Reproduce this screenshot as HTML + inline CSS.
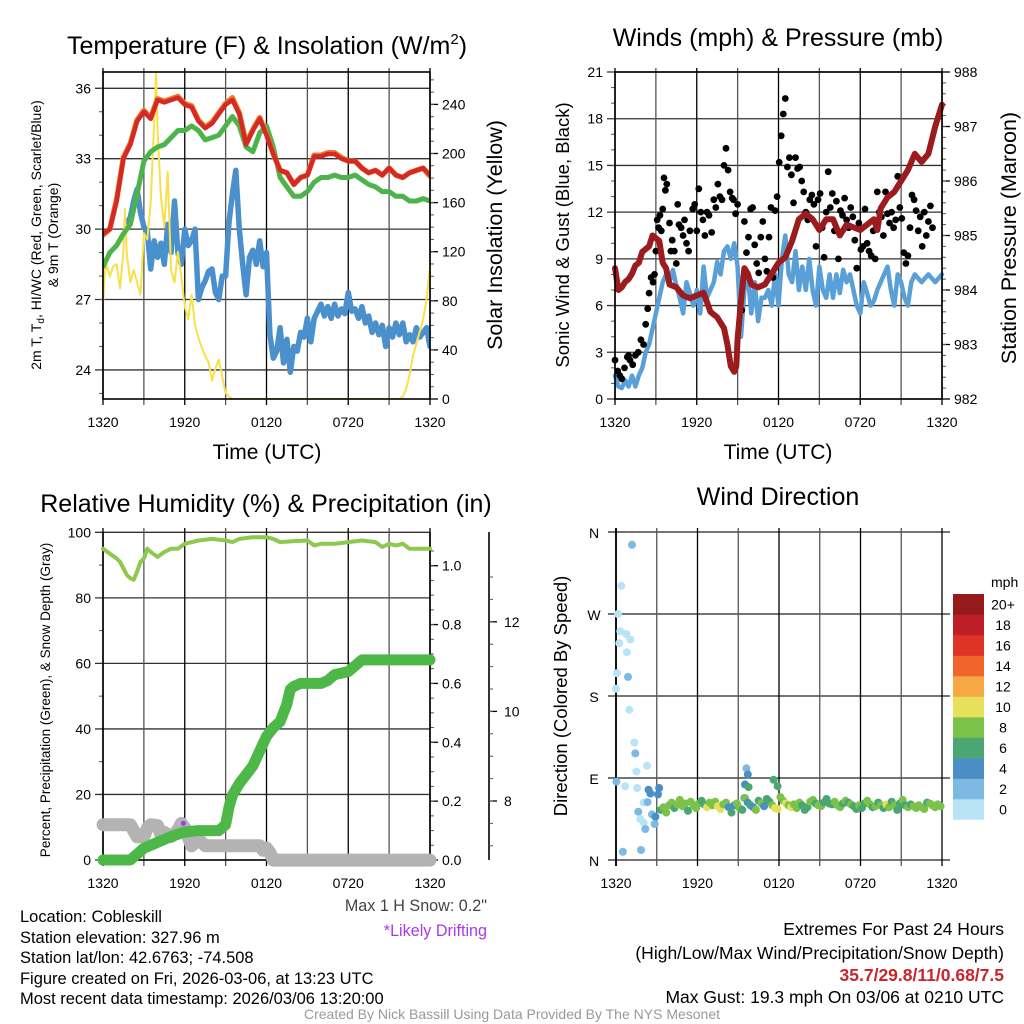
<!DOCTYPE html>
<html><head><meta charset="utf-8"><title>NYS Mesonet Cobleskill</title>
<style>
html,body{margin:0;padding:0;background:#fff;}
svg{display:block;font-family:"Liberation Sans",sans-serif;}
</style></head>
<body>
<svg id="fig" width="1024" height="1024" viewBox="0 0 1024 1024" xmlns="http://www.w3.org/2000/svg">
<rect x="0" y="0" width="1024" height="1024" fill="#fff"/>
<g id="p1"></g>
<g id="p2"></g>
<g id="p3"></g>
<g id="p4"></g>
<!-- titles -->
<text x="267" y="54" font-size="25" text-anchor="middle">Temperature (F) &amp; Insolation (W/m<tspan font-size="15" dy="-10">2</tspan><tspan dy="10">)</tspan></text>
<text x="778" y="46" font-size="25" text-anchor="middle">Winds (mph) &amp; Pressure (mb)</text>
<text x="266" y="512" font-size="25" text-anchor="middle">Relative Humidity (%) &amp; Precipitation (in)</text>
<text x="778" y="505" font-size="25" text-anchor="middle">Wind Direction</text>
<text x="267" y="459" font-size="21" text-anchor="middle">Time (UTC)</text>
<text x="778" y="459" font-size="21" text-anchor="middle">Time (UTC)</text>
<text transform="translate(41,235) rotate(-90)" font-size="14" text-anchor="middle">2m T, T<tspan font-size="10" dy="3">d</tspan><tspan dy="-3">, HI/WC (Red, Green, Scarlet/Blue)</tspan></text>
<text transform="translate(58,235) rotate(-90)" font-size="14" text-anchor="middle">&amp; 9m T (Orange)</text>
<text transform="translate(502,235) rotate(-90)" font-size="21.5" text-anchor="middle">Solar Insolation (Yellow)</text>
<text transform="translate(569,235) rotate(-90)" font-size="18.5" text-anchor="middle">Sonic Wind &amp; Gust (Blue, Black)</text>
<text transform="translate(1016,238) rotate(-90)" font-size="21.5" text-anchor="middle">Station Pressure (Maroon)</text>
<text transform="translate(50,700) rotate(-90)" font-size="13.5" text-anchor="middle">Percent, Precipitation (Green), &amp; Snow Depth (Gray)</text>
<text transform="translate(567,696) rotate(-90)" font-size="18.5" text-anchor="middle">Direction (Colored By Speed)</text>
<!-- footer -->
<g font-size="17">
<text x="20" y="922" transform="translate(20,0) scale(0.97,1) translate(-20,0)">Location: Cobleskill</text>
<text x="20" y="943" transform="translate(20,0) scale(0.97,1) translate(-20,0)">Station elevation: 327.96 m</text>
<text x="20" y="963" transform="translate(20,0) scale(0.97,1) translate(-20,0)">Station lat/lon: 42.6763; -74.508</text>
<text x="20" y="984" transform="translate(20,0) scale(0.97,1) translate(-20,0)">Figure created on Fri, 2026-03-06, at 13:23 UTC</text>
<text x="20" y="1004" transform="translate(20,0) scale(0.97,1) translate(-20,0)">Most recent data timestamp: 2026/03/06 13:20:00</text>
</g>
<text x="487" y="911" font-size="17" text-anchor="end" fill="#444" transform="translate(487,0) scale(0.95,1) translate(-487,0)">Max 1 H Snow: 0.2"</text>
<text x="487" y="936" font-size="17" text-anchor="end" fill="#a83be0" transform="translate(487,0) scale(0.95,1) translate(-487,0)">*Likely Drifting</text>
<g font-size="17.5" text-anchor="end">
<text x="1004" y="935">Extremes For Past 24 Hours</text>
<text x="1004" y="959">(High/Low/Max Wind/Precipitation/Snow Depth)</text>
<text x="1004" y="981" fill="#c8262a" font-weight="bold">35.7/29.8/11/0.68/7.5</text>
<text x="1004" y="1003">Max Gust: 19.3 mph On 03/06 at 0210 UTC</text>
</g>
<text x="512" y="1019" font-size="14" fill="#999" text-anchor="middle">Created By Nick Bassill Using Data Provided By The NYS Mesonet</text>
</svg>
<script>
// ---------- shared ----------
const timeTicks = ["1320","1920","0120","0720","1320"];
// ---------- panel 1 data ----------
const tempHours = [0,0.5,1,1.5,2,2.5,3,3.5,4,4.5,5,5.5,6,6.5,7,7.5,8,8.5,9,9.5,10,10.5,11,11.5,12,12.5,13,13.5,14,14.5,15,15.5,16,16.5,17,17.5,18,18.5,19,19.5,20,20.5,21,21.5,22,22.5,23,23.5,24];
const tempRed = [29.8,30.0,31.2,33.0,33.6,34.6,35.0,34.7,35.5,35.4,35.5,35.6,35.3,35.2,34.6,34.3,34.5,34.9,35.3,35.5,34.9,33.6,34.2,34.7,34.0,33.2,32.5,32.4,31.9,32.2,32.3,33.1,33.1,33.2,33.2,33.0,32.9,32.9,32.6,32.4,32.5,32.3,32.6,32.3,32.2,32.4,32.5,32.6,32.3];
const tempOrange = [29.75,30.0,31.25,33.05,33.65,34.65,35.05,34.75,35.55,35.45,35.55,35.65,35.35,35.25,34.65,34.35,34.55,34.95,35.35,35.6,34.95,33.65,34.25,34.75,34.05,33.2,32.5,32.4,31.9,32.2,32.3,33.15,33.15,33.25,33.25,33.05,32.9,32.9,32.6,32.4,32.5,32.3,32.6,32.3,32.2,32.4,32.5,32.6,32.25];
const tempGreen = [28.4,29.0,29.3,29.8,30.2,31.5,32.9,33.3,33.5,33.6,33.9,34.2,34.2,34.4,34.2,33.8,33.9,34.0,34.4,34.8,34.4,33.5,33.3,34.1,34.4,33.5,32.2,31.8,31.4,31.4,31.6,32.0,32.2,32.2,32.3,32.2,32.2,32.3,32.1,31.9,31.8,31.6,31.6,31.4,31.4,31.2,31.2,31.3,31.2];
const wcHours = [1.8,2,2.25,2.5,2.75,3,3.25,3.5,3.75,4,4.25,4.5,4.75,5,5.25,5.5,5.75,6,6.25,6.5,6.75,7,7.25,7.5,7.75,8,8.25,8.5,8.75,9,9.25,9.5,9.75,10,10.25,10.5,10.75,11,11.25,11.5,11.75,12,12.25,12.5,12.75,13,13.25,13.5,13.75,14,14.25,14.5,14.75,15,15.25,15.5,15.75,16,16.25,16.5,16.75,17,17.25,17.5,17.75,18,18.25,18.5,18.75,19,19.25,19.5,19.75,20,20.25,20.5,20.75,21,21.25,21.5,21.75,22,22.25,22.5,22.75,23,23.25,23.5,23.75,24];
const wcBlue = [30.3,30.5,31.2,31.7,30.7,30.1,29.9,28.3,29.5,28.8,29.4,28.5,30.2,29.0,31.2,29.0,28.5,30.0,29.3,29.5,30.0,27.0,27.5,27.8,28.2,28.3,27.3,27.0,28.0,28.0,30.3,31.5,32.5,30.0,28.5,27.2,28.8,29.1,28.5,29.5,28.4,29.0,25.5,24.5,24.8,25.8,24.3,25.3,23.9,25.0,24.8,25.6,25.4,26.2,25.2,26.2,26.5,26.8,26.3,26.7,26.2,26.8,26.3,26.6,26.4,27.3,26.5,26.6,26.2,26.7,26.0,26.3,25.6,26.0,25.5,25.9,25.0,25.8,25.4,26.0,25.5,26.0,25.2,25.5,25.2,25.8,25.4,25.6,25.8,25.0];
const solarHours = [0,0.1,0.25,0.5,0.75,1,1.25,1.5,1.6,1.75,2,2.25,2.5,2.75,3,3.25,3.5,3.75,3.9,4,4.25,4.5,4.75,5,5.25,5.5,5.75,6,6.25,6.5,6.75,7,7.25,7.5,7.75,8,8.25,8.5,8.75,9,9.25,9.5,21.75,22,22.25,22.5,22.75,23,23.25,23.5,23.75,24];
const solarVals = [74,100,110,100,108,110,90,120,155,118,95,105,95,85,135,130,160,225,265,220,165,140,185,105,95,120,100,75,65,85,60,50,42,35,30,15,25,32,18,5,2,0,0,2,8,20,35,45,55,65,82,108];
const tempTicks = [24,27,30,33,36];
const solarTicks = [0,40,80,120,160,200,240];
// ---------- panel 2 data ----------
const presHours = [0,0.25,0.5,0.75,1,1.25,1.5,1.75,2,2.5,2.75,3,3.25,3.5,3.75,4,4.5,5,5.5,6,6.5,7,7.5,8,8.25,8.5,8.75,8.9,9,9.25,9.5,9.75,10,10.5,11,11.5,12,12.5,13,13.5,14,14.5,15,15.5,16,16.5,17,17.5,18,18.5,19,19.25,19.5,20,20.5,21,21.5,22,22.5,23,23.5,24];
const presVals = [984.4,984.0,984.05,984.15,984.2,984.3,984.45,984.5,984.7,984.8,985.0,984.95,984.9,984.5,984.4,984.1,984.05,983.9,983.85,983.9,983.95,983.6,983.5,983.3,983.0,982.6,982.5,982.6,983.1,983.8,984.4,984.3,984.1,984.05,984.1,984.3,984.5,984.6,984.9,985.3,985.4,985.3,985.1,985.3,985.3,985.0,985.2,985.15,985.1,985.2,985.3,985.1,985.5,985.7,985.8,986.0,986.2,986.5,986.35,986.5,987.0,987.4];
const windHours = [0,0.25,0.5,0.75,1,1.25,1.5,1.75,2,2.25,2.5,2.75,3,3.25,3.5,3.75,4,4.25,4.5,4.75,5,5.25,5.5,5.75,6,6.25,6.5,6.75,7,7.25,7.5,7.75,8,8.25,8.5,8.75,9,9.25,9.5,9.75,10,10.25,10.5,10.75,11,11.25,11.5,11.75,12,12.25,12.5,12.75,13,13.25,13.5,13.75,14,14.25,14.5,14.75,15,15.25,15.5,15.75,16,16.25,16.5,16.75,17,17.25,17.5,17.75,18,18.25,18.5,18.75,19,19.25,19.5,19.75,20,20.25,20.5,20.75,21,21.25,21.5,21.75,22,22.5,23,23.5,24];
const windVals = [1.5,0.8,0.7,1.2,0.8,1.5,0.8,1.5,2.0,3.0,3.5,4.5,5.5,6.5,7.5,8.0,7.5,8.3,7.3,6.5,5.5,7.5,6.8,6.0,7.0,5.5,8.5,6.5,7.0,7.5,8.8,8.0,9.5,9.8,9.0,10.0,8.5,4.0,7.0,8.0,5.5,7.5,5.0,6.5,6.5,7.0,6.0,8.0,6.0,9.0,10.5,8.0,7.5,9.5,7.0,8.5,7.0,9.0,7.0,6.0,8.5,7.0,6.5,8.0,6.5,8.0,6.8,8.3,7.5,8.0,7.0,6.0,5.5,7.5,6.8,6.0,6.3,7.0,7.5,8.0,8.5,7.0,6.0,8.0,7.5,6.5,6.0,7.5,8.0,7.5,8.0,7.5,8.0];
const gustHours = [0,0.2,0.35,0.5,0.7,0.9,1.0,1.1,1.3,1.5,1.7,1.9,2.1,2.25,2.4,2.5,2.65,2.8,2.9,3.0,3.1,3.2,3.3,3.4,3.5,3.6,3.7,3.8,4.0,4.1,4.2,4.35,4.5,4.6,4.7,4.85,5.0,5.1,5.25,5.4,5.5,5.7,5.85,6.0,6.15,6.3,6.45,6.6,6.75,6.9,7.1,7.25,7.4,7.55,7.7,7.85,8.0,8.15,8.3,8.45,8.6,8.7,8.85,9.0,9.3,9.5,9.65,9.8,9.95,10.1,10.25,10.4,10.55,10.7,10.85,11.0,11.15,11.3,11.45,11.6,11.75,11.9,12.05,12.2,12.35,12.5,12.65,12.8,12.95,13.1,13.25,13.4,13.55,13.7,13.85,14.0,14.15,14.3,14.45,14.6,14.75,14.9,15.05,15.2,15.35,15.5,15.65,15.8,15.95,16.1,16.25,16.4,16.55,16.7,16.85,17.0,17.15,17.3,17.45,17.6,17.75,17.9,18.05,18.2,18.35,18.5,18.65,18.8,18.95,19.1,19.25,19.4,19.55,19.7,19.85,20.0,20.15,20.3,20.45,20.6,20.75,20.9,21.05,21.2,21.35,21.5,21.65,21.8,21.95,22.1,22.25,22.4,22.55,22.7,22.85,23.0,23.15,23.3,23.45,23.6,23.75,23.9];
const gustVals = [2.5,1.8,1.5,1.3,2.0,2.7,2.8,2.5,2.2,2.8,3.0,3.8,3.5,4.8,5.8,6.8,7.8,7.5,8.0,9.5,11.5,11.0,11.8,10.8,12.2,14.2,13.4,13.8,11.3,9.5,10.2,9.5,8.7,12.5,11.2,11.0,10.5,11.5,10.0,9.5,10.8,12.2,12.5,10.8,13.5,12.0,11.5,10.5,12.0,11.8,10.7,12.8,12.3,13.8,13.0,12.8,15.0,16.1,14.7,13.3,12.9,12.8,11.9,12.5,5.7,11.4,9.4,10.4,12.2,12.3,9.9,8.7,8.1,10.4,11.4,9.0,8.2,10.4,12.3,7.8,12.1,13.0,15.2,16.9,18.3,19.3,14.9,15.5,14.4,12.6,15.5,14.8,14.9,14.0,13.3,12.0,11.5,12.8,13.1,12.5,9.8,12.8,13.2,11.0,9.1,12.0,14.6,12.3,13.2,10.8,12.7,9.0,12.1,11.8,12.9,11.5,11.0,12.3,11.7,10.2,8.4,11.3,9.6,9.8,12.2,10.0,9.5,9.2,10.8,9.0,13.3,12.0,11.7,10.5,13.3,11.9,11.3,12.0,11.0,11.5,14.3,12.3,11.6,9.4,8.7,9.2,11.0,13.1,12.8,12.1,10.8,11.7,9.8,12.0,10.5,11.4,12.4,11.0];
const windTicks = [0,3,6,9,12,15,18,21];
const presTicks = [982,983,984,985,986,987,988];
// ---------- panel 3 data ----------
const rhHours = [0,0.5,1,1.25,1.5,1.75,2,2.25,2.5,2.75,3,3.25,3.5,4,4.5,5,5.5,6,7,8,9,9.5,10,11,12,12.5,13,14,15,15.5,16,17,18,19,20,20.5,21,21.5,22,22.5,23,24];
const rhVals = [95,93.5,92,91,89,87,86,85.5,88,91,92,95,94,92.5,94,95,95,96.5,97.5,98,97.5,97,98,98.5,98.5,98,97,97.3,97.5,96,96.5,96.5,97,97.5,97,95.5,96.5,96,96.5,95,95,95];
const precipHours = [0,2,2.5,3,3.5,4,5,6,7,8,8.5,9,9.25,9.5,10,10.5,11,11.5,12,12.5,13,13.5,13.75,14,14.5,15,16,16.5,17,18,18.5,19,24];
const precipVals = [0,0,0.02,0.04,0.05,0.06,0.08,0.095,0.10,0.10,0.10,0.12,0.18,0.22,0.26,0.29,0.32,0.37,0.42,0.45,0.47,0.53,0.58,0.59,0.60,0.60,0.60,0.61,0.63,0.64,0.66,0.68,0.68];
const snowHours = [0,2,2.5,3,3.25,3.5,4,4.25,4.5,5,5.5,5.75,6,6.25,6.5,7,7.5,8,11,11.5,11.75,12,12.25,12.5,24];
const snowVals = [7.47,7.47,7.2,7.2,7.4,7.47,7.45,7.25,7.3,7.2,7.35,7.5,7.4,7.2,7.0,7.15,7.0,7.0,7.0,7.0,6.9,6.95,6.85,6.68,6.68];
const pctTicks = [0,20,40,60,80,100];
const inchTicks = [0.0,0.2,0.4,0.6,0.8,1.0];
const snowTicks = [8,10,12];
const driftHour = [5.9];
const driftSnow = [7.5];
// ---------- panel 4 data ----------
const dirHours = [1.18,0.39,0.15,0.32,0.76,1.05,0.24,0.8,0.07,0.88,0,0.98,1.35,1.42,1.5,2.28,0.03,0.67,1.55,2.4,2.53,3.17,3.09,2.04,2.33,1.64,1.79,2.04,2.65,2.9,2.85,2.16,1.84,0.5,9.6,9.7,9.5,9.45,11.6,11.9,9.76,
3.3,3.5,3.7,3.9,4.1,4.3,4.5,4.7,4.9,5.1,5.3,5.5,5.7,5.9,6.1,6.3,6.5,6.7,6.9,7.1,7.3,7.5,7.7,7.9,8.1,8.3,8.5,8.7,8.9,9.1,9.3,9.5,9.7,9.9,10.1,10.3,10.5,10.7,10.9,11.1,11.3,11.5,11.7,11.9,12.1,12.3,12.5,12.7,12.9,13.1,13.3,13.5,13.7,13.9,14.1,14.3,14.5,14.7,14.9,15.1,15.3,15.5,15.7,15.9,16.1,16.3,16.5,16.7,16.9,17.1,17.3,17.5,17.7,17.9,18.1,18.3,18.5,18.7,18.9,19.1,19.3,19.5,19.7,19.9,20.1,20.3,20.5,20.7,20.9,21.1,21.3,21.5,21.7,21.9,22.1,22.3,22.5,22.7,22.9,23.1,23.3,23.5,23.7,23.9];
const dirDeg = [346,301,270,251,248,242,238,228,205,201,188,165,129,117,97,103.5,86,81,79,77,73,79,72,63,63.5,53,45,41,50,47.5,39.5,34,11,9,100.6,94,83,68,88,81,80,
55,58,52,60,63,57,61,66,59,62,54,64,60,57,62,65,61,58,63,60,64,59,56,61,63,58,52,60,62,57,55,68,63,60,58,55,65,62,59,67,64,60,57,56,69,65,62,60,58,61,57,63,60,55,58,64,66,62,60,59,63,67,62,61,64,60,58,62,65,63,61,59,56,60,57,62,65,61,58,59,63,60,57,61,58,64,60,55,62,66,60,58,61,59,57,60,58,56,63,62,60,58,61,59];
const dirSpeed = [3,1,1,1,1,1,1,1,1,3,1,1,1,3,1,1,3,1,1,5,5,5,5,1,3,3,1,1,3,5,3,3,3,3,3,5,5,5,7,7,7,
7,8,9,9,9,6,9,9,8,8,7,9,9,9,8,7,7,10,9,9,8,10,11,9,8,5,7,5,9,9,7,9,5,7,5,8,7,9,5,6,7,9,11,10,9,8,10,9,11,9,8,9,7,6,7,9,8,7,9,8,7,6,7,7,8,9,8,7,9,6,9,7,6,8,7,6,9,9,7,9,6,9,7,10,8,7,9,6,7,8,6,9,7,9,8,9,8,9,7,8,9,8,9,9];
const dirTicks = ["N","E","S","W","N"];
const speedBins = ["0","2","4","6","8","10","12","14","16","18","20+"];
const binColors = ["#b9e3f6","#7db9e3","#4a8ec5","#4aa773","#7bc24a","#e6e05a","#f6a845","#f0652b","#de3326","#be1e25","#961a1c"];

// ---------- helpers ----------
const NS = "http://www.w3.org/2000/svg";
function mk(parent, tag, attrs, name) {
  const el = document.createElementNS(NS, tag);
  for (const k in attrs) el.setAttribute(k, attrs[k]);
  
  
  parent.appendChild(el);
  return el;
}
function txt(parent, x, y, s, size, anchor, name) {
  const t = mk(parent, 'text', {x: x, y: y, 'font-size': size, 'text-anchor': anchor}, name);
  t.textContent = s;
  return t;
}
function pathD(xs, ys, fx, fy) {
  let d = "";
  const n = Math.min(xs.length, ys.length);
  for (let i = 0; i < n; i++) d += (i ? "L" : "M") + fx(xs[i]).toFixed(1) + "," + fy(ys[i]).toFixed(1);
  return d;
}
function series(parent, xs, ys, fx, fy, color, w, name) {
  mk(parent, 'path', {d: pathD(xs, ys, fx, fy), fill: 'none', stroke: color, 'stroke-width': w, 'stroke-linejoin': 'round', 'stroke-linecap': 'round'}, name);
}
function frameTime(g, L, R, T, B, name) {
  for (let h = 0; h <= 24; h += 3) {
    const x = L + (R - L) * h / 24;
    mk(g, 'line', {x1: x, y1: T - 4, x2: x, y2: B + 6, stroke: (h % 6 === 0) ? '#000' : '#555', 'stroke-width': 1.3}, name + '-vgrid');
  }
  for (let i = 0; i < timeTicks.length; i++) {
    const x = L + (R - L) * i / 4;
    txt(g, x, B + 28, timeTicks[i], 14, 'middle', name + '-x-tick-label');
  }
}
function frameBox(g, L, R, T, B, name) {
  mk(g, 'rect', {x: L, y: T, width: R - L, height: B - T, fill: 'none', stroke: '#000', 'stroke-width': 1.6}, name + '-frame');
}

// ---------- panel 1 ----------
(function () {
  const g = document.getElementById('p1');
  const L = 103, R = 430, T = 72, B = 399;
  const fx = h => L + h * (R - L) / 24;
  const fy = t => 88.3 + (36 - t) * 23.47;
  const fs = s => B - s * 1.2275;
  for (const t of tempTicks) {
    mk(g, 'line', {x1: L - 8, y1: fy(t), x2: R, y2: fy(t), stroke: '#333', 'stroke-width': 1.3}, 'temp-hgrid');
    txt(g, L - 12, fy(t) + 5, String(t), 14, 'end', 'temp-tick-label');
  }
  for (let t = 23; t <= 36.5; t += 1) mk(g, 'line', {x1: L - 4, y1: fy(t), x2: L, y2: fy(t), stroke: '#555', 'stroke-width': 1}, 'temp-minor-tick');
  for (const s of solarTicks) {
    mk(g, 'line', {x1: R, y1: fs(s), x2: R + 8, y2: fs(s), stroke: '#000', 'stroke-width': 1.3}, 'solar-tick');
    txt(g, R + 12, fs(s) + 5, String(s), 14, 'start', 'solar-tick-label');
  }
  for (let s = 10; s <= 260; s += 10) mk(g, 'line', {x1: R, y1: fs(s), x2: R + 4, y2: fs(s), stroke: '#555', 'stroke-width': 1}, 'solar-minor-tick');
  frameTime(g, L, R, T, B, 'p1');
  const clip = mk(g, 'clipPath', {id: 'c1'}, 'p1-clip');
  mk(clip, 'rect', {x: L, y: T, width: R - L, height: B - T}, 'p1-clip-rect');
  const s = mk(g, 'g', {'clip-path': 'url(#c1)'}, 'p1-series');
  series(s, wcHours, wcBlue, fx, fy, '#4a90cc', 5.5, 'windchill-line');
  series(s, solarHours, solarVals, fx, fs, '#f7e04a', 2, 'insolation-line');
  series(s, tempHours, tempGreen, fx, fy, '#4cb44a', 5, 'dewpoint-line');
  series(s, tempHours, tempOrange, fx, fy, '#f07a30', 5.5, 'temp-9m-line');
  series(s, tempHours, tempRed, fx, fy, '#d42a25', 4.5, 'temp-2m-line');
  frameBox(g, L, R, T, B, 'p1');
})();

// ---------- panel 2 ----------
(function () {
  const g = document.getElementById('p2');
  const L = 615, R = 942, T = 72, B = 399;
  const fx = h => L + h * (R - L) / 24;
  const fw = w => B - w * (B - T) / 21;
  const fp = p => B - (p - 982) * (B - T) / 6;
  for (const w of windTicks) {
    mk(g, 'line', {x1: L - 8, y1: fw(w), x2: R, y2: fw(w), stroke: '#333', 'stroke-width': 1.3}, 'wind-hgrid');
    txt(g, L - 12, fw(w) + 5, String(w), 14, 'end', 'wind-tick-label');
  }
  for (let w = 1; w < 21; w++) mk(g, 'line', {x1: L - 4, y1: fw(w), x2: L, y2: fw(w), stroke: '#555', 'stroke-width': 1}, 'wind-minor-tick');
  for (const p of presTicks) {
    mk(g, 'line', {x1: R, y1: fp(p), x2: R + 8, y2: fp(p), stroke: '#000', 'stroke-width': 1.3}, 'pressure-tick');
    txt(g, R + 12, fp(p) + 5, String(p), 14, 'start', 'pressure-tick-label');
  }
  for (let p = 982.2; p < 988; p += 0.2) mk(g, 'line', {x1: R, y1: fp(p), x2: R + 4, y2: fp(p), stroke: '#555', 'stroke-width': 1}, 'pressure-minor-tick');
  frameTime(g, L, R, T, B, 'p2');
  series(g, windHours, windVals, fx, fw, '#5aa0d8', 4.5, 'sonic-wind-line');
  for (let i = 0; i < Math.min(gustHours.length, gustVals.length); i++) {
    mk(g, 'circle', {cx: fx(gustHours[i]).toFixed(1), cy: fw(gustVals[i]).toFixed(1), r: 3.4, fill: '#000'}, 'gust-point');
  }
  series(g, presHours, presVals, fx, fp, '#9b1b1e', 6, 'pressure-line');
  frameBox(g, L, R, T, B, 'p2');
})();

// ---------- panel 3 ----------
(function () {
  const g = document.getElementById('p3');
  const L = 103, R = 430, T = 532, B = 860;
  const fx = h => L + h * (R - L) / 24;
  const fpct = p => B - p * 3.277;
  const fin = v => B - v * 294.3;
  const fsn = s => 801 - (s - 8) * 44.8;
  for (const p of pctTicks) {
    mk(g, 'line', {x1: L - 8, y1: fpct(p), x2: R, y2: fpct(p), stroke: '#333', 'stroke-width': 1.3}, 'pct-hgrid');
    txt(g, L - 12, fpct(p) + 5, String(p), 14, 'end', 'pct-tick-label');
  }
  for (let p = 10; p < 100; p += 20) mk(g, 'line', {x1: L - 4, y1: fpct(p), x2: L, y2: fpct(p), stroke: '#555', 'stroke-width': 1}, 'pct-minor-tick');
  for (const v of inchTicks) {
    mk(g, 'line', {x1: R, y1: fin(v), x2: R + 8, y2: fin(v), stroke: '#000', 'stroke-width': 1.3}, 'precip-tick');
    txt(g, R + 12, fin(v) + 5, v.toFixed(1), 14, 'start', 'precip-tick-label');
  }
  for (let v = 0.05; v < 1.1; v += 0.05) mk(g, 'line', {x1: R, y1: fin(v), x2: R + 4, y2: fin(v), stroke: '#555', 'stroke-width': 1}, 'precip-minor-tick');
  mk(g, 'line', {x1: R, y1: T, x2: R, y2: B, stroke: '#000', 'stroke-width': 1.6}, 'precip-axis-line');
  const SX = 489;
  mk(g, 'line', {x1: SX, y1: T, x2: SX, y2: B, stroke: '#000', 'stroke-width': 1.6}, 'snow-axis-line');
  for (const s of snowTicks) {
    mk(g, 'line', {x1: SX, y1: fsn(s), x2: SX + 8, y2: fsn(s), stroke: '#000', 'stroke-width': 1.3}, 'snow-tick');
    txt(g, SX + 15, fsn(s) + 5, String(s), 14, 'start', 'snow-tick-label');
  }
  for (let s = 7; s <= 13; s += 0.5) mk(g, 'line', {x1: SX, y1: fsn(s), x2: SX + 4, y2: fsn(s), stroke: '#555', 'stroke-width': 1}, 'snow-minor-tick');
  frameTime(g, L, R, T, B, 'p3');
  mk(g, 'line', {x1: L, y1: T, x2: L, y2: B, stroke: '#000', 'stroke-width': 1.6}, 'p3-left-axis');
  mk(g, 'line', {x1: L, y1: B, x2: R, y2: B, stroke: '#000', 'stroke-width': 1.6}, 'p3-bottom-axis');
  series(g, snowHours, snowVals, fx, fsn, '#b3b3b3', 13, 'snow-depth-line');
  series(g, precipHours, precipVals, fx, fin, '#4db848', 11, 'precip-line');
  series(g, rhHours, rhVals, fx, fpct, '#8cc94e', 4, 'rh-line');
  for (let i = 0; i < driftHour.length; i++) {
    mk(g, 'circle', {cx: fx(driftHour[i]), cy: fsn(driftSnow[i]), r: 2.5, fill: '#a83be0'}, 'drift-marker');
  }
})();

// ---------- panel 4 ----------
(function () {
  const g = document.getElementById('p4');
  const L = 616, R = 942, T = 532, B = 860;
  const fx = h => L + h * (R - L) / 24;
  const fd = d => B - d * (B - T) / 360;
  for (let i = 0; i < dirTicks.length; i++) {
    const y = fd(i * 90);
    mk(g, 'line', {x1: L - 8, y1: y, x2: R + 8, y2: y, stroke: '#222', 'stroke-width': 1.3}, 'direction-hgrid');
    txt(g, L - 22, y + 6, dirTicks[i], 14, 'middle', 'direction-tick-label');
  }
  frameTime(g, L, R, T, B, 'p4');
  mk(g, 'line', {x1: L, y1: T - 4, x2: L, y2: B + 6, stroke: '#000', 'stroke-width': 1.8}, 'p4-left-axis');
  for (let i = 0; i < Math.min(dirHours.length, dirDeg.length, dirSpeed.length); i++) {
    const bin = Math.min(10, Math.floor(dirSpeed[i] / 2));
    mk(g, 'circle', {cx: fx(dirHours[i]).toFixed(1), cy: fd(dirDeg[i]).toFixed(1), r: 4, fill: binColors[bin]}, 'direction-point');
  }
  txt(g, 991, 587, 'mph', 14, 'start', 'speed-legend-title');
  const top = 594, h = 20.5;
  for (let i = 0; i < speedBins.length; i++) {
    const y = top + (speedBins.length - 1 - i) * h;
    mk(g, 'rect', {x: 953, y: y, width: 31, height: h + 0.3, fill: binColors[i]}, 'speed-legend-swatch');
    txt(g, 1003, y + h / 2 + 5, speedBins[i], 14, 'middle', 'speed-legend-label');
  }
})();
</script>
</body></html>
